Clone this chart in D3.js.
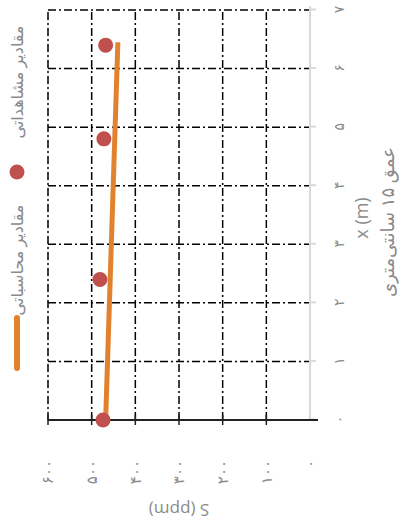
<!DOCTYPE html>
<html>
<head>
<meta charset="utf-8">
<script src="https://cdn.jsdelivr.net/npm/d3@7"></script>
<style>
  body { margin: 0; background: #fff; }
  text { font-family: "Open Sans", "DejaVu Sans", sans-serif; fill: #8a8a8a; }
</style>
</head>
<body>
<div class="chart"></div>
<script>
// data
var xTicks = [0, 1, 2, 3, 4, 5, 6, 7];
var xTickLabels = ["۰", "۱", "۲", "۳", "۴", "۵", "۶", "۷"];
var sTicks = [0, 100, 200, 300, 400, 500, 600];
var sTickLabels = ["۰", "۱۰۰", "۲۰۰", "۳۰۰", "۴۰۰", "۵۰۰", "۶۰۰"];
var obsX = [0, 2.4, 4.8, 6.4];
var obsS = [474, 481, 472, 468];
var calcX = [0, 6.45];
var calcS = [468, 440];
var legendNames = ["مقادیر محاسباتی", "مقادیر مشاهداتی"];

var W = 404, H = 527;
// the chart is drawn upright in a 527x404 frame and turned a quarter left
var margin = { top: 48, right: 10, bottom: 94, left: 107 };
var width = H - margin.left - margin.right;
var height = W - margin.top - margin.bottom;

var xScale = d3.scaleLinear().domain([0, 7]).range([0, width]);
var yScale = d3.scaleLinear().domain([0, 600]).range([height, 0]);

var svg = d3.select(".chart").append("svg")
  .attr("width", W)
  .attr("height", H);

var frame = svg.append("g")
  .attr("transform", "translate(0," + H + ") rotate(-90)");

var chart = frame.append("g")
  .attr("transform", "translate(" + margin.left + "," + margin.top + ")");

var dash = "8,3,2,3";

// grid
chart.selectAll(".gx").data(xTicks.filter(function (d) { return d > 0; }))
  .enter().append("line")
  .attr("x1", function (d) { return xScale(d); })
  .attr("x2", function (d) { return xScale(d); })
  .attr("y1", 0).attr("y2", height)
  .attr("stroke", "#000").attr("stroke-width", 1.5)
  .attr("stroke-dasharray", dash);

chart.selectAll(".gy").data(sTicks.filter(function (d) { return d > 0; }))
  .enter().append("line")
  .attr("x1", 0).attr("x2", width)
  .attr("y1", function (d) { return yScale(d); })
  .attr("y2", function (d) { return yScale(d); })
  .attr("stroke", "#000").attr("stroke-width", 1.5)
  .attr("stroke-dasharray", dash);

// x axis (gray, at S = 0)
var xAxis = chart.append("g")
  .attr("transform", "translate(0," + height + ")")
  .call(d3.axisBottom(xScale).tickValues(xTicks).tickSize(6).tickSizeOuter(0)
    .tickFormat(function (d, i) { return xTickLabels[i]; }));
xAxis.selectAll("path, line").attr("stroke", "#d9d9d9").attr("stroke-width", 2);
xAxis.select(".domain").attr("d", "M" + xScale(0) + ",8V0H" + (width + 4));
xAxis.selectAll("text")
  .attr("y", 24)
  .style("font-size", "14px")
  .style("fill", "#8a8a8a");

// y axis (black, at x = 0)
var yAxis = chart.append("g");
yAxis.append("line")
  .attr("x1", 0).attr("x2", 0)
  .attr("y1", yScale(600)).attr("y2", yScale(0) + 8)
  .attr("stroke", "#222").attr("stroke-width", 2);
yAxis.selectAll(".tk").data(sTicks.filter(function (d) { return d > 0; }))
  .enter().append("line")
  .attr("x1", -5).attr("x2", 5)
  .attr("y1", function (d) { return yScale(d); })
  .attr("y2", function (d) { return yScale(d); })
  .attr("stroke", "#222").attr("stroke-width", 1.5);
yAxis.selectAll(".lb").data(sTicks)
  .enter().append("text")
  .attr("x", -40)
  .attr("y", function (d) { return yScale(d); })
  .attr("dy", "0.35em")
  .attr("text-anchor", "end")
  .style("font-size", "15px")
  .text(function (d, i) { return sTickLabels[i]; });

// axis titles
chart.append("text")
  .attr("x", xScale(0) + 202)
  .attr("y", height + 58)
  .attr("text-anchor", "middle")
  .style("font-size", "18px")
  .text("x (m)");
chart.append("text")
  .attr("x", xScale(0) + 198)
  .attr("y", height + 84)
  .attr("text-anchor", "middle")
  .style("font-size", "18px")
  .text("عمق ۱۵ سانتی‌متری");
chart.append("text")
  .attr("transform", "translate(" + (-90) + "," + yScale(300) + ") rotate(-90)")
  .attr("text-anchor", "middle")
  .attr("dy", "0.35em")
  .style("font-size", "17px")
  .text("S (ppm)");

// calculated line
var line = d3.line()
  .x(function (d) { return xScale(d.x); })
  .y(function (d) { return yScale(d.s); });
var calc = calcX.map(function (x, i) { return { x: x, s: calcS[i] }; });
chart.append("path")
  .attr("d", line(calc))
  .attr("fill", "none")
  .attr("stroke", "#e2822f")
  .attr("stroke-width", 5);

// observed points
var obs = obsX.map(function (x, i) { return { x: x, s: obsS[i] }; });
chart.selectAll(".pt").data(obs)
  .enter().append("circle")
  .attr("cx", function (d) { return xScale(d.x); })
  .attr("cy", function (d) { return yScale(d.s); })
  .attr("r", 7.5)
  .attr("fill", "#c0504d");

// legend
var legend = frame.append("g");
legend.append("line")
  .attr("x1", 159).attr("x2", 209)
  .attr("y1", 17).attr("y2", 17)
  .attr("stroke", "#e2822f").attr("stroke-width", 6)
  .attr("stroke-linecap", "round");
legend.append("text")
  .attr("x", 267).attr("y", 17).attr("dy", "0.35em")
  .attr("text-anchor", "middle")
  .style("font-size", "16px")
  .text(legendNames[0]);
legend.append("circle")
  .attr("cx", 355).attr("cy", 17).attr("r", 7.5)
  .attr("fill", "#c0504d");
legend.append("text")
  .attr("x", 445).attr("y", 17).attr("dy", "0.35em")
  .attr("text-anchor", "middle")
  .style("font-size", "16px")
  .text(legendNames[1]);
</script>
</body>
</html>
